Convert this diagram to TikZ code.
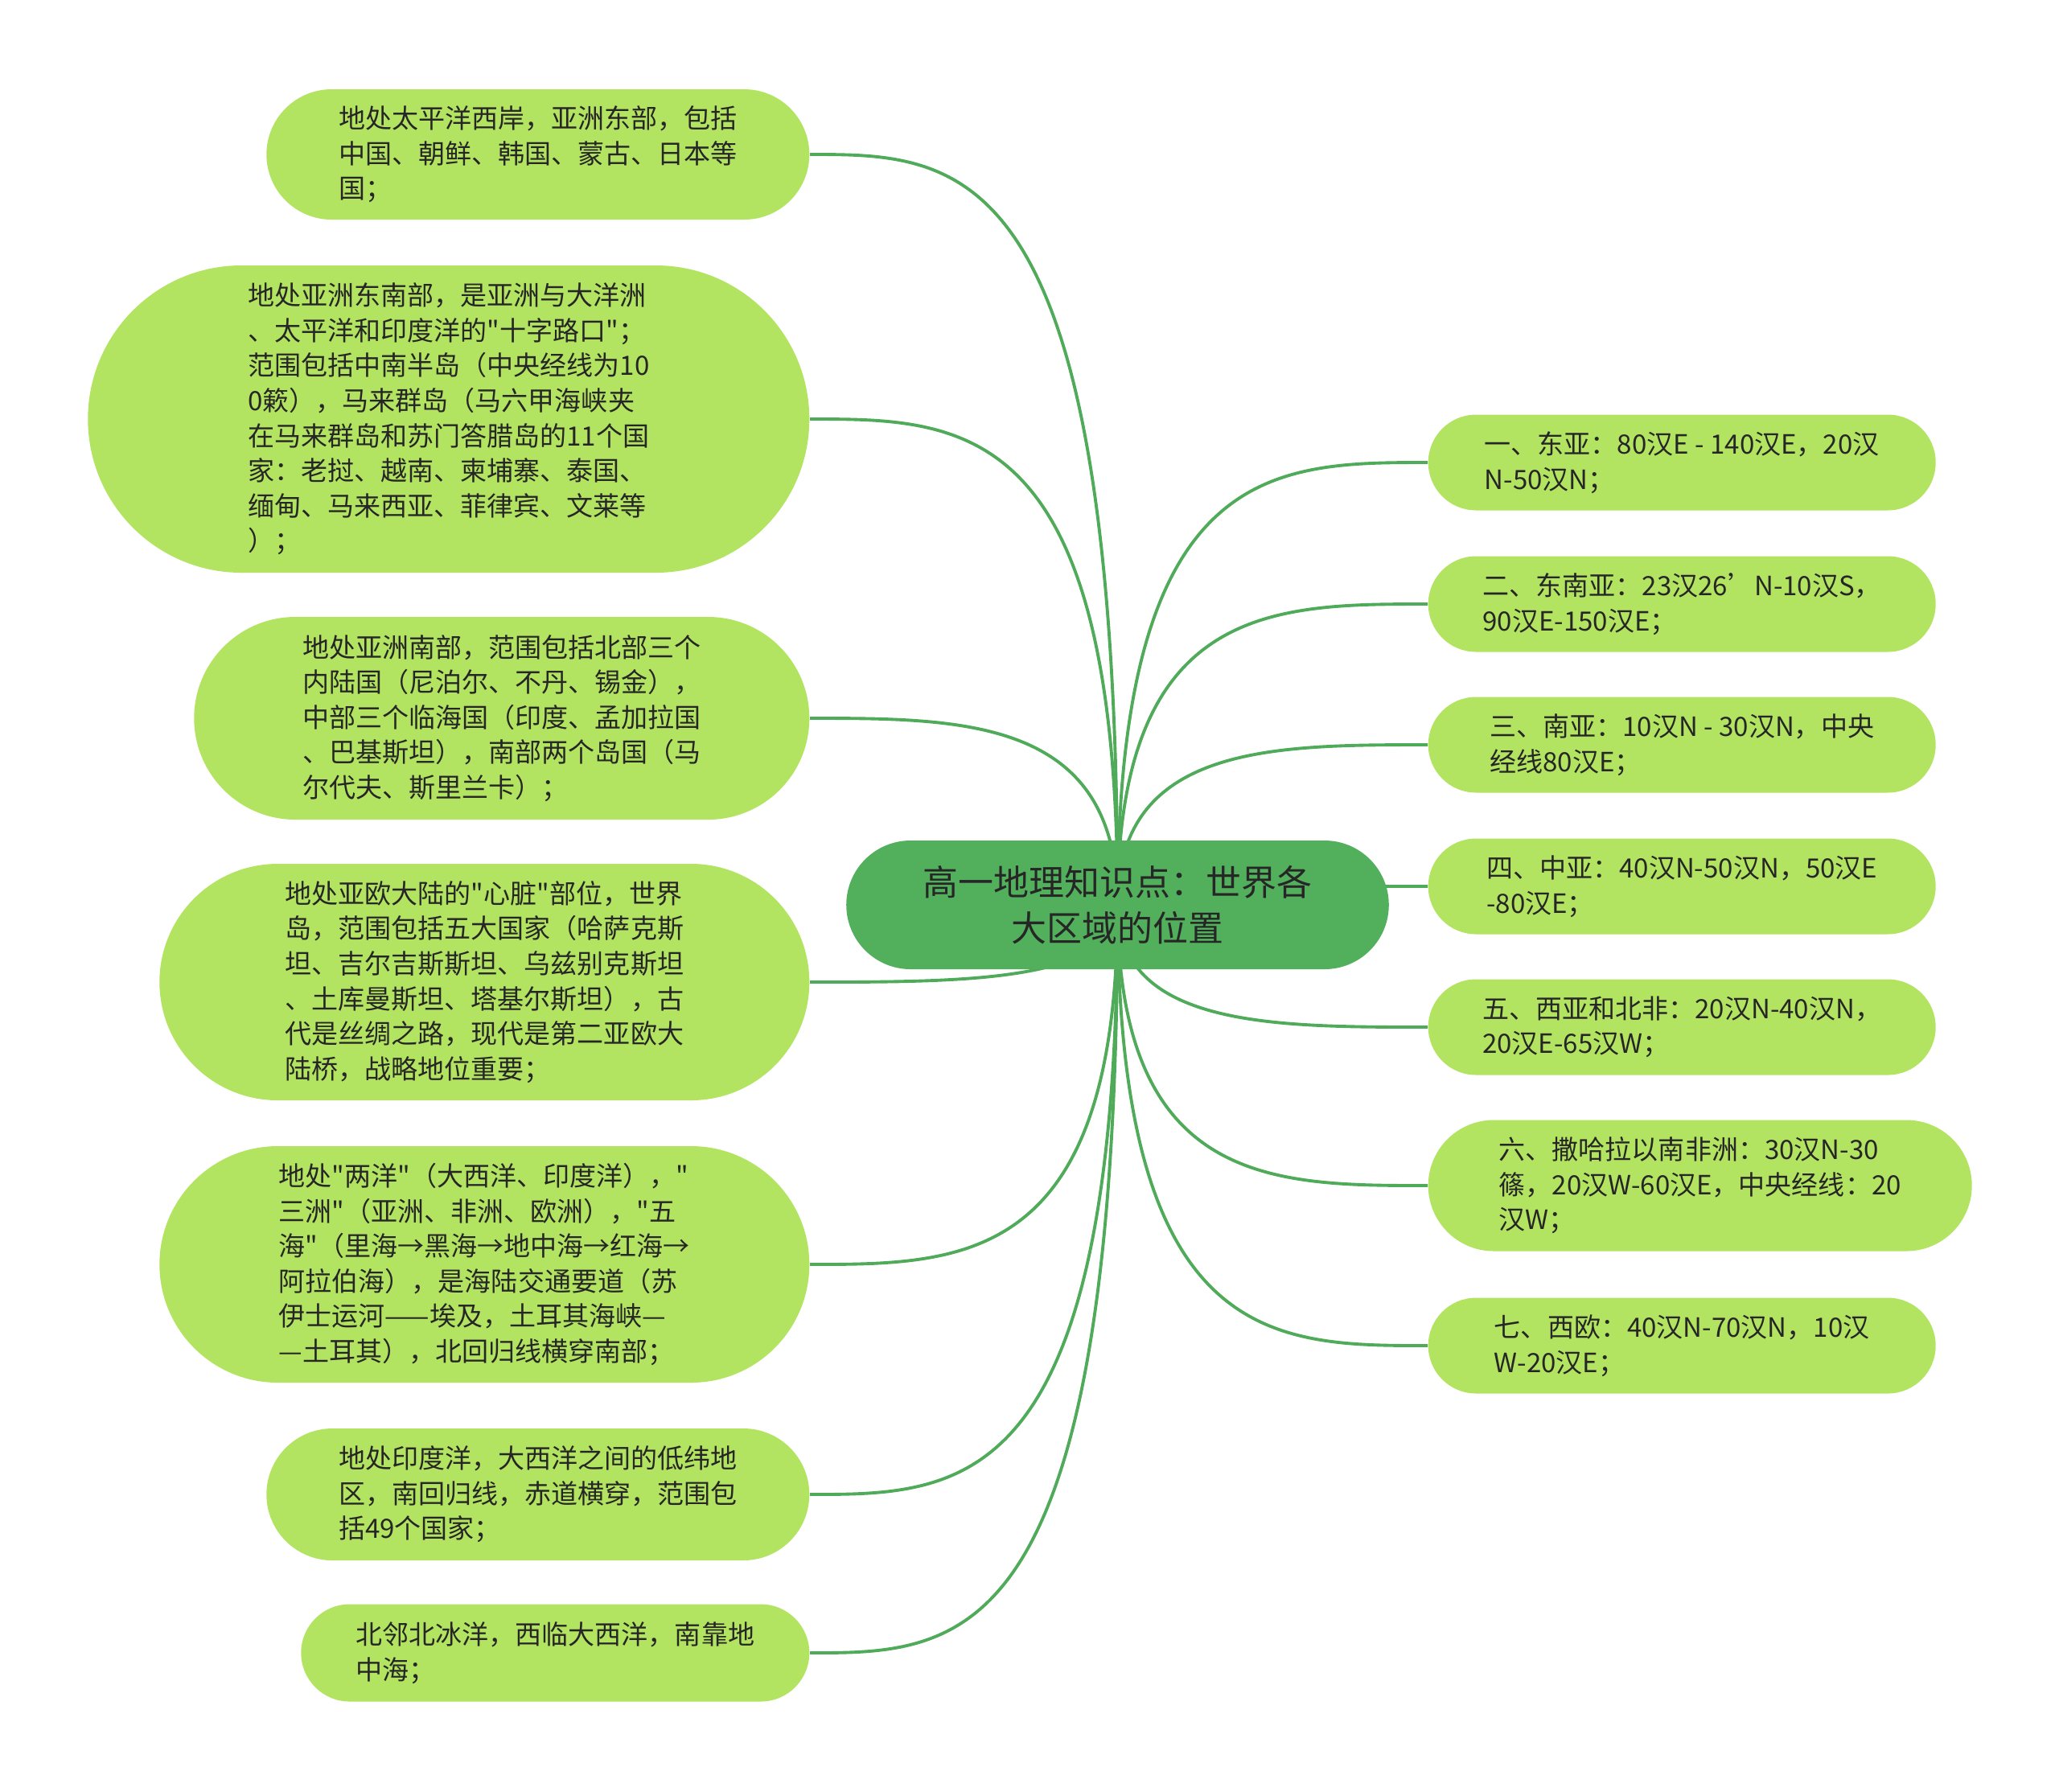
\documentclass[tikz,border=0pt]{standalone}
\usepackage{fontspec}
\setmainfont{Noto Sans CJK SC}[Ligatures=TeXOff]
\usetikzlibrary{shapes.misc,calc,backgrounds}

\definecolor{leafgreen}{HTML}{B3E461}
\definecolor{rootgreen}{HTML}{52AF5C}
\definecolor{linkgreen}{HTML}{4FAA59}
\definecolor{textdark}{HTML}{262626}

\tikzset{
    leaf/.style={rounded rectangle, fill=leafgreen, text=textdark, align=left,
        inner xsep=0.07cm, font=\fontsize{9.4pt}{12.4pt}\selectfont},
    topic/.style={rounded rectangle, fill=rootgreen, text=textdark, align=center,
        minimum width=6.98cm, minimum height=1.6cm, font=\fontsize{12.5pt}{16.2pt}\selectfont},
    link/.style={linkgreen, line width=1.1pt}
}

\begin{document}
\begin{tikzpicture}
    \useasboundingbox (0, 0) rectangle (25.6, -22.27);

    % 中心主题
    \node[topic] (root) at (13.895, -11.25) {高一地理知识点：世界各\\大区域的位置};

    % 左侧
    \node[leaf, anchor=east, minimum width=6.89cm, minimum height=1.62cm] (l1) at (10.07, -1.92)
        {地处太平洋西岸，亚洲东部，包括\\中国、朝鲜、韩国、蒙古、日本等\\国；};
    \node[leaf, anchor=east, minimum width=9.11cm, minimum height=3.82cm] (l2) at (10.07, -5.21)
        {地处亚洲东南部，是亚洲与大洋洲\\、太平洋和印度洋的"十字路口"；\\范围包括中南半岛（中央经线为10\\0簌），马来群岛（马六甲海峡夹\\在马来群岛和苏门答腊岛的11个国\\家：老挝、越南、柬埔寨、泰国、\\缅甸、马来西亚、菲律宾、文莱等\\）；};
    \node[leaf, anchor=east, minimum width=7.79cm, minimum height=2.52cm] (l3) at (10.07, -8.93)
        {地处亚洲南部，范围包括北部三个\\内陆国（尼泊尔、不丹、锡金），\\中部三个临海国（印度、孟加拉国\\、巴基斯坦），南部两个岛国（马\\尔代夫、斯里兰卡）；};
    \node[leaf, anchor=east, minimum width=8.22cm, minimum height=2.94cm] (l4) at (10.07, -12.21)
        {地处亚欧大陆的"心脏"部位，世界\\岛，范围包括五大国家（哈萨克斯\\坦、吉尔吉斯斯坦、乌兹别克斯坦\\、土库曼斯坦、塔基尔斯坦），古\\代是丝绸之路，现代是第二亚欧大\\陆桥，战略地位重要；};
    \node[leaf, anchor=east, minimum width=8.22cm, minimum height=2.94cm] (l5) at (10.07, -15.72)
        {地处"两洋"（大西洋、印度洋），"\\三洲"（亚洲、非洲、欧洲），"五\\海"（里海→黑海→地中海→红海→\\阿拉伯海），是海陆交通要道（苏\\伊士运河——埃及，土耳其海峡—\\—土耳其），北回归线横穿南部；};
    \node[leaf, anchor=east, minimum width=6.89cm, minimum height=1.64cm] (l6) at (10.07, -18.58)
        {地处印度洋，大西洋之间的低纬地\\区，南回归线，赤道横穿，范围包\\括49个国家；};
    \node[leaf, anchor=east, minimum width=6.46cm, minimum height=1.21cm] (l7) at (10.07, -20.55)
        {北邻北冰洋，西临大西洋，南靠地\\中海；};

    % 右侧
    \node[leaf, anchor=west, minimum width=6.45cm, minimum height=1.19cm] (r1) at (17.75, -5.75)
        {一、东亚：80汉E - 140汉E，20汉\\N-50汉N；};
    \node[leaf, anchor=west, minimum width=6.45cm, minimum height=1.19cm] (r2) at (17.75, -7.51)
        {二、东南亚：23汉26’N-10汉S，\\90汉E-150汉E；};
    \node[leaf, anchor=west, minimum width=6.45cm, minimum height=1.19cm] (r3) at (17.75, -9.26)
        {三、南亚：10汉N - 30汉N，中央\\经线80汉E；};
    \node[leaf, anchor=west, minimum width=6.45cm, minimum height=1.19cm] (r4) at (17.75, -11.02)
        {四、中亚：40汉N-50汉N，50汉E\\-80汉E；};
    \node[leaf, anchor=west, minimum width=6.45cm, minimum height=1.19cm] (r5) at (17.75, -12.77)
        {五、西亚和北非：20汉N-40汉N，\\20汉E-65汉W；};
    \node[leaf, anchor=west, minimum width=6.90cm, minimum height=1.63cm] (r6) at (17.75, -14.74)
        {六、撒哈拉以南非洲：30汉N-30\\篠，20汉W-60汉E，中央经线：20\\汉W；};
    \node[leaf, anchor=west, minimum width=6.45cm, minimum height=1.19cm] (r7) at (17.75, -16.73)
        {七、西欧：40汉N-70汉N，10汉\\W-20汉E；};

    % 连线
    \begin{scope}[on background layer]
        \foreach \n in {l1, l2, l3, l4, l5, l6, l7} {
            \draw[link] (root.center) .. controls (root.center |- \n.east)
                and ($(root.center |- \n.east)!0.5!(\n.east)$) .. (\n.east);
        }
        \foreach \n in {r1, r2, r3, r4, r5, r6, r7} {
            \draw[link] (root.center) .. controls (root.center |- \n.west)
                and ($(root.center |- \n.west)!0.5!(\n.west)$) .. (\n.west);
        }
    \end{scope}
\end{tikzpicture}
\end{document}
